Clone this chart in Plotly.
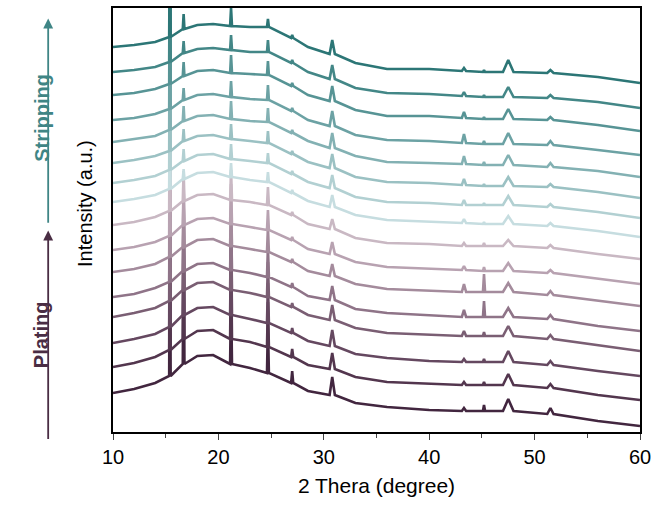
import plotly.graph_objects as go

# 2-theta grid (degrees) at which each pattern's background was read
two_theta = [10, 12, 14, 15.4, 16.7, 18, 19.5, 21.2, 23, 24.7, 27, 28.5, 30.8, 33, 36, 40,
             43.3, 45.2, 47.5, 51.5, 56, 60]

# background intensity (a.u., stacked) per pattern, top (last stripping) to bottom (first plating)
pattern_01 = [385, 387, 390, 395, 403, 407, 408, 406, 405, 405, 394, 385, 378, 369, 363, 363, 361, 360, 360, 359, 355, 349]
pattern_02 = [360, 362, 365, 370, 379, 383, 384, 382, 380, 380, 369, 360, 353, 344, 339, 338, 336, 335, 335, 334, 330, 324]
pattern_03 = [337, 339, 343, 348, 356, 361, 362, 359, 358, 357, 346, 337, 331, 322, 316, 316, 314, 313, 313, 312, 307, 301]
pattern_04 = [312, 314, 318, 323, 332, 337, 338, 335, 333, 332, 321, 312, 306, 297, 292, 291, 289, 288, 288, 287, 282, 277]
pattern_05 = [290, 293, 296, 302, 311, 316, 317, 313, 311, 310, 299, 291, 284, 276, 270, 269, 268, 267, 267, 265, 261, 255]
pattern_06 = [269, 272, 276, 281, 291, 296, 297, 293, 291, 289, 278, 270, 264, 255, 250, 249, 247, 246, 246, 245, 240, 234]
pattern_07 = [249, 252, 256, 262, 271, 277, 278, 273, 271, 269, 258, 250, 244, 235, 230, 229, 227, 227, 227, 225, 220, 214]
pattern_08 = [230, 233, 237, 243, 253, 259, 260, 255, 252, 250, 239, 231, 225, 217, 212, 210, 209, 208, 208, 206, 201, 195]
pattern_09 = [207, 210, 215, 221, 231, 237, 238, 232, 230, 227, 217, 208, 203, 194, 189, 188, 186, 186, 186, 184, 178, 173]
pattern_10 = [182, 185, 190, 196, 207, 213, 214, 208, 205, 202, 192, 183, 178, 170, 165, 163, 162, 161, 161, 159, 153, 148]
pattern_11 = [160, 163, 168, 175, 185, 192, 193, 186, 183, 180, 170, 161, 156, 148, 143, 141, 140, 140, 140, 137, 131, 126]
pattern_12 = [135, 138, 144, 150, 161, 168, 169, 162, 159, 155, 145, 136, 132, 123, 119, 117, 115, 115, 115, 113, 106, 101]
pattern_13 = [115, 119, 124, 131, 142, 149, 150, 142, 139, 135, 125, 117, 112, 104, 99, 97, 96, 96, 96, 93, 87, 81]
pattern_14 = [89, 93, 98, 105, 117, 124, 125, 117, 113, 109, 99, 91, 86, 78, 74, 71, 70, 70, 70, 67, 61, 56]
pattern_15 = [65, 69, 75, 82, 93, 101, 102, 93, 90, 85, 75, 67, 63, 55, 50, 48, 47, 47, 47, 44, 37, 32]
pattern_16 = [39, 43, 49, 56, 68, 76, 77, 68, 64, 59, 49, 41, 37, 29, 25, 22, 21, 21, 21, 18, 11, 6]

# diffraction peak positions (degrees) and peak heights above background per pattern
peak_positions = [15.4, 16.7, 21.2, 24.7, 27.0, 30.8, 43.3, 45.2, 47.5, 51.5]
peaks_01 = [120, 15, 18, 8, 3, 14, 3, 2, 12, 3]
peaks_02 = [140, 12, 15, 12, 3, 14, 4, 2, 10, 3]
peaks_03 = [150, 14, 18, 14, 3, 15, 6, 2, 10, 3]
peaks_04 = [150, 12, 16, 15, 3, 15, 9, 3, 11, 4]
peaks_05 = [150, 15, 18, 14, 3, 15, 8, 3, 10, 4]
peaks_06 = [150, 12, 15, 12, 3, 14, 6, 2, 9, 3]
peaks_07 = [140, 12, 15, 10, 3, 13, 5, 2, 9, 3]
peaks_08 = [140, 10, 14, 10, 3, 12, 4, 2, 8, 3]
peaks_09 = [170, 30, 30, 18, 3, 10, 3, 3, 6, 3]
peaks_10 = [170, 40, 40, 20, 3, 12, 4, 4, 8, 3]
peaks_11 = [170, 60, 45, 25, 3, 12, 8, 18, 9, 4]
peaks_12 = [170, 70, 50, 30, 4, 14, 7, 16, 9, 4]
peaks_13 = [180, 90, 60, 35, 4, 15, 5, 4, 10, 4]
peaks_14 = [180, 100, 75, 40, 5, 16, 3, 3, 11, 4]
peaks_15 = [180, 110, 80, 45, 8, 16, 3, 3, 11, 4]
peaks_16 = [190, 130, 70, 50, 12, 18, 3, 6, 12, 6]

patterns = [pattern_01, pattern_02, pattern_03, pattern_04, pattern_05, pattern_06, pattern_07, pattern_08,
            pattern_09, pattern_10, pattern_11, pattern_12, pattern_13, pattern_14, pattern_15, pattern_16]
peaks = [peaks_01, peaks_02, peaks_03, peaks_04, peaks_05, peaks_06, peaks_07, peaks_08,
         peaks_09, peaks_10, peaks_11, peaks_12, peaks_13, peaks_14, peaks_15, peaks_16]

x_ticks = [10, 20, 30, 40, 50, 60]

# styles
peak_half_width = [0.07, 0.08, 0.09, 0.09, 0.1, 0.25, 0.2, 0.1, 0.5, 0.3]
colors = ["#2c7676", "#438787", "#579495", "#6ca2a4", "#83b1b3", "#9bc1c3", "#b2d0d2", "#c6dde0",
          "#c9b8c3", "#b8a2b1", "#a48b9c", "#8f7488", "#7a5e73", "#654860", "#53364e", "#42263f"]

fig = go.Figure()
for idx in reversed(range(len(patterns))):
    bg = patterns[idx]
    pk = peaks[idx]
    xs, ys = [], []
    for i, x in enumerate(two_theta):
        if x in peak_positions:
            j = peak_positions.index(x)
            w = peak_half_width[j]
            xs += [x - w, x, x + w]
            ys += [bg[i], bg[i] + pk[j], bg[i]]
        else:
            xs.append(x)
            ys.append(bg[i])
    fig.add_trace(go.Scatter(x=xs, y=ys, mode="lines",
                             line=dict(color=colors[idx], width=2.6),
                             showlegend=False, hoverinfo="skip"))

fig.update_layout(
    width=654, height=512,
    margin=dict(l=113, r=14, t=8, b=80),
    paper_bgcolor="white", plot_bgcolor="white",
    font=dict(family="Liberation Sans, Arial, sans-serif", color="black"),
    xaxis=dict(range=[10, 60], tickvals=x_ticks, ticks="outside", ticklen=6, tickwidth=1.3,
               tickfont=dict(size=20), showline=True, linecolor="black", linewidth=1.6, mirror=True,
               showgrid=False, zeroline=False, automargin=False,
               minor=dict(dtick=5, ticks="outside", ticklen=4, tickwidth=1.3),
               title=dict(text="2 Thera (degree)", font=dict(size=21), standoff=12)),
    yaxis=dict(range=[0, 424], showticklabels=False, ticks="", showline=True, linecolor="black",
               linewidth=1.6, mirror=True, showgrid=False, zeroline=False, automargin=False),
)

# side annotations: arrows and labels
D = dict(xref="x domain", yref="y domain", axref="x domain", ayref="y domain")
fig.add_annotation(xref="x domain", yref="y domain", x=-0.078, y=0.54, text="Intensity (a.u.)",
                   textangle=-90, showarrow=False, font=dict(size=20, color="black"))
fig.add_annotation(**D, x=-0.123, y=0.975, ax=-0.123, ay=0.49, text="", showarrow=True,
                   arrowhead=2, arrowsize=1.1, arrowwidth=1.8, arrowcolor="#3f8585")
fig.add_annotation(**D, x=-0.123, y=0.475, ax=-0.123, ay=-0.02, text="", showarrow=True,
                   arrowhead=2, arrowsize=1.1, arrowwidth=1.8, arrowcolor="#4a2d44")
fig.add_annotation(xref="x domain", yref="y domain", x=-0.161, y=0.85, text="<b>Stripping</b>",
                   textangle=-90, showarrow=False, font=dict(size=20, color="#3f8585"))
fig.add_annotation(xref="x domain", yref="y domain", x=-0.161, y=0.145, text="<b>Plating</b>",
                   textangle=-90, showarrow=False, font=dict(size=20, color="#4a2d44"))

fig.write_html("out.html", config={"displayModeBar": False},
               post_script="document.body.style.margin='0px';")
